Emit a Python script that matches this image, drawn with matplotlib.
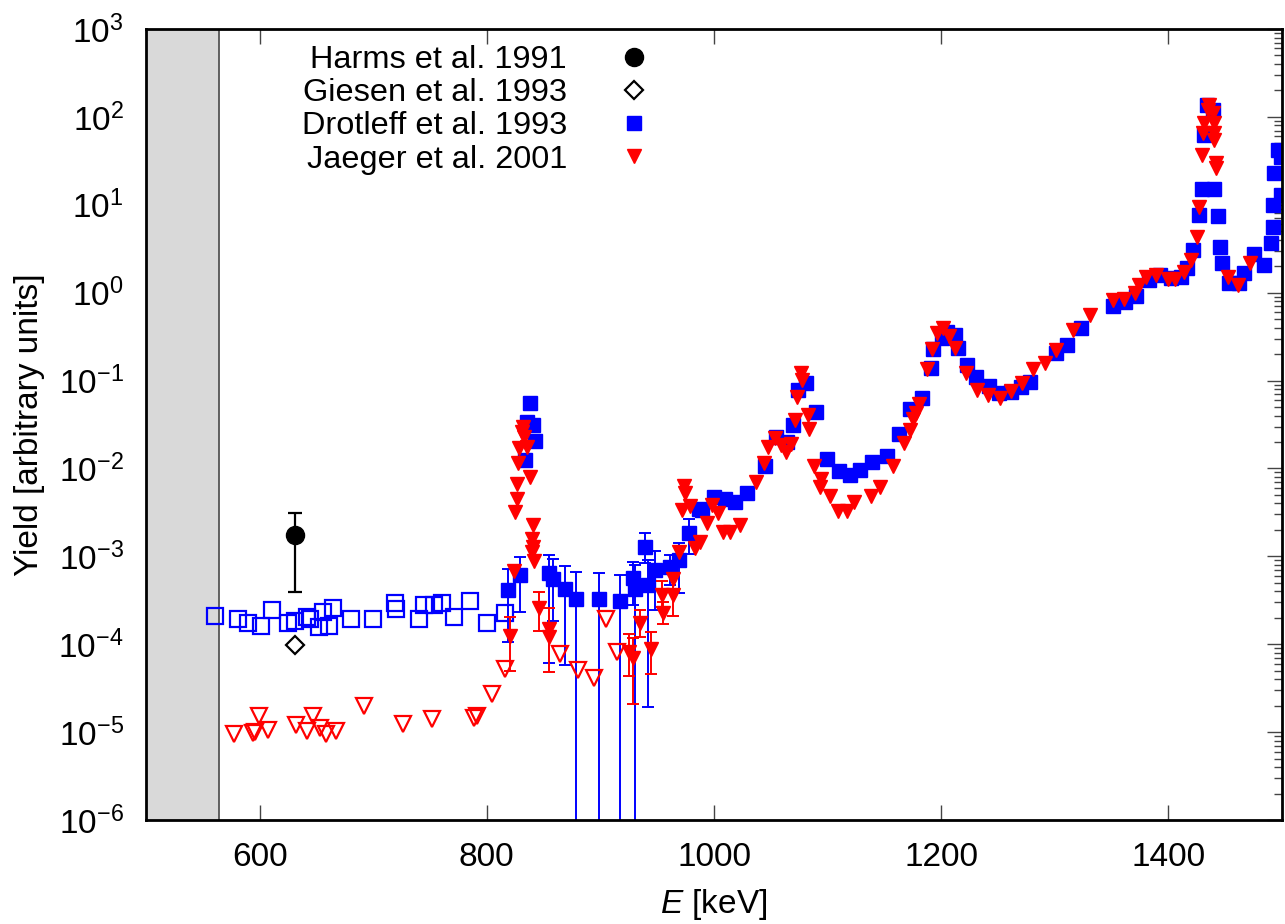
import matplotlib
matplotlib.use("Agg")
import matplotlib.pyplot as plt
from matplotlib.lines import Line2D
import matplotlib.ticker as mticker
import numpy as np

plt.rcParams['font.family'] = ['Liberation Sans', 'DejaVu Sans']
plt.rcParams['mathtext.fontset'] = 'custom'
plt.rcParams['mathtext.rm'] = 'Liberation Sans'
plt.rcParams['mathtext.it'] = 'Liberation Sans:italic'
plt.rcParams['mathtext.default'] = 'regular'

# ---------------- data ----------------
# Harms et al. 1991
harms_E = [631.0]
harms_Y = [1.75e-3]
harms_hi = [3.1e-3]
harms_lo = [3.9e-4]

# Giesen et al. 1993
giesen_E = [631.0]
giesen_Y = [9.8e-5]

# Drotleff et al. 1993 - open squares (low energies)
drot_open_E = [560.8, 580.8, 590.1, 601.1, 610.7, 625.4, 631.3, 641.6, 644.5, 652.4,
               655.7, 661.5, 665.0, 680.6, 699.7, 718.8, 720.0, 739.9, 744.9, 753.1,
               760.5, 770.7, 784.8, 800.2, 816.3]
drot_open_Y = [2.11e-4, 1.94e-4, 1.73e-4, 1.63e-4, 2.45e-4, 1.73e-4, 1.84e-4, 2.06e-4, 1.94e-4, 1.55e-4,
               2.35e-4, 1.63e-4, 2.57e-4, 1.94e-4, 1.94e-4, 2.92e-4, 2.52e-4, 1.94e-4, 2.80e-4, 2.83e-4,
               2.92e-4, 2.03e-4, 3.11e-4, 1.73e-4, 2.25e-4]

# Drotleff et al. 1993 - filled squares with error bars
drot_err_E = [818.3, 828.9, 854.5, 858.3, 869.2, 878.9, 899.1, 917.0, 928.8, 930.8,
              939.0, 942.0, 948.5, 961.7, 969.0, 978.4]
drot_err_Y = [4.15e-4, 6.1e-4, 6.4e-4, 5.5e-4, 4.2e-4, 3.3e-4, 3.25e-4, 3.13e-4, 5.6e-4, 4.3e-4,
              1.27e-3, 4.7e-4, 7.0e-4, 7.5e-4, 9.1e-4, 1.86e-3]
drot_err_hi = [7.1e-4, 9.9e-4, 1.04e-3, 9.3e-4, 7.8e-4, 6.7e-4, 6.4e-4, 6.1e-4, 8.6e-4, 8.0e-4,
               1.86e-3, 9.1e-4, 1.15e-3, 1.04e-3, 1.41e-3, 2.64e-3]
drot_err_lo = [1.07e-4, 2.35e-4, 6.1e-5, 1.86e-4, 5.8e-5, 1e-9, 1e-9, 1e-9, 2.8e-4, 1e-9,
               8.4e-4, 1.95e-5, 2.45e-4, 4.7e-4, 3.8e-4, 1.06e-3]

# Drotleff et al. 1993 - filled squares
drot_E = [838.3, 835.4, 840.7, 842.7, 833.9, 986.6, 989.6, 999.8, 1010.1, 1018.9,
          1029.2, 1044.5, 1054.2, 1063.9, 1069.8, 1074.2, 1080.6, 1089.4, 1099.1, 1110.0,
          1119.6, 1128.5, 1139.4, 1152.6, 1162.8, 1172.5, 1183.4, 1190.7, 1193.1, 1201.0,
          1205.5, 1211.9, 1214.8, 1222.5, 1230.4, 1242.1, 1250.9, 1261.2, 1270.0, 1278.2,
          1300.9, 1310.6, 1322.9, 1350.8, 1361.7, 1371.4, 1383.1, 1392.2, 1402.2, 1411.1,
          1416.8, 1421.3, 1426.6, 1429.3, 1431.6, 1434.0, 1439.1, 1440.4, 1443.4, 1445.7,
          1446.9, 1453.6, 1462.4, 1466.8, 1475.0, 1484.4, 1490.3, 1491.8, 1491.8, 1493.2,
          1496.2, 1499.1, 1499.1]
drot_Y = [0.056, 0.034, 0.031, 0.0207, 0.0125, 3.5e-3, 3.4e-3, 4.7e-3, 4.5e-3, 4.2e-3,
          5.2e-3, 0.0107, 0.0226, 0.0202, 0.031, 0.078, 0.093, 0.044, 0.0127, 9.4e-3,
          8.4e-3, 9.6e-3, 0.0118, 0.0139, 0.0247, 0.047, 0.063, 0.138, 0.227, 0.303,
          0.36, 0.33, 0.233, 0.150, 0.109, 0.087, 0.072, 0.075, 0.085, 0.097,
          0.207, 0.254, 0.394, 0.706, 0.79, 0.92, 1.40, 1.59, 1.46, 1.52,
          1.90, 3.06, 7.7, 15.0, 62.0, 136.0, 120.0, 15.0, 7.5, 3.29,
          2.19, 1.28, 1.28, 1.69, 2.75, 2.07, 3.65, 5.6, 9.96, 22.8,
          42.0, 35.0, 12.9]

# Jaeger et al. 2001 - open triangles (low energies)
jaeg_open_E = [577.5, 594.5, 596.0, 599.8, 607.8, 631.9, 642.1, 646.8, 653.3, 658.6,
               667.4, 691.5, 726.2, 751.7, 788.4, 791.4, 804.6, 815.7, 864.8, 880.0,
               894.1, 905.3, 914.7]
jaeg_open_Y = [9.46e-6, 9.7e-6, 9.9e-6, 1.53e-5, 1.06e-5, 1.21e-5, 1.03e-5, 1.53e-5, 1.12e-5, 9.46e-6,
               1.03e-5, 1.99e-5, 1.24e-5, 1.40e-5, 1.43e-5, 1.53e-5, 2.7e-5, 5.2e-5, 7.76e-5, 5.1e-5,
               4.1e-5, 1.92e-4, 8.2e-5]

# Jaeger et al. 2001 - filled triangles with error bars
jaeg_err_E = [820.7, 845.6, 855.1, 924.9, 928.8, 934.6, 944.7, 954.4, 955.2, 964.0]
jaeg_err_Y = [1.24e-4, 2.57e-4, 1.48e-4, 8.2e-5, 6.9e-5, 1.76e-4, 8.9e-5, 3.6e-4, 2.25e-4, 3.6e-4]
jaeg_err_hi = [2.06e-4, 3.9e-4, 2.57e-4, 1.31e-4, 1.17e-4, 2.45e-4, 1.37e-4, 5.2e-4, 3.05e-4, 6.4e-4]
jaeg_err_lo = [5.0e-5, 1.42e-4, 4.8e-5, 4.4e-5, 2.07e-5, 1.22e-4, 4.6e-5, 2.68e-4, 1.69e-4, 2.1e-4]

# Jaeger et al. 2001 - filled triangles
jaeg_E = [831.9, 831.0, 832.4, 828.0, 835.4, 827.1, 837.7, 826.6, 826.6, 825.1,
          840.3, 839.7, 840.3, 839.7, 841.8, 823.6, 855.1, 964.0, 969.0, 983.7,
          973.3, 974.9, 972.0, 979.3, 993.7, 998.1, 1003.9, 1007.9, 1013.8, 1022.7,
          988.1, 1036.6, 1043.9, 1047.4, 1053.3, 1058.6, 1063.0, 1067.4, 1070.9, 1072.7,
          1076.2, 1077.7, 1082.6, 1083.5, 1087.9, 1093.8, 1093.2, 1102.0, 1109.1, 1117.3,
          1123.1, 1137.9, 1146.1, 1157.9, 1167.2, 1172.5, 1175.5, 1177.5, 1180.4, 1187.2,
          1192.2, 1196.6, 1201.9, 1206.9, 1211.9, 1221.6, 1231.9, 1241.2, 1251.8, 1261.2,
          1271.5, 1281.2, 1291.2, 1300.9, 1316.4, 1331.1, 1350.8, 1360.5, 1370.5, 1374.3,
          1380.2, 1389.0, 1399.3, 1405.7, 1413.9, 1419.8, 1425.1, 1427.1, 1429.5, 1430.1,
          1431.6, 1434.6, 1436.0, 1439.0, 1439.8, 1440.4, 1440.4, 1441.9, 1441.9, 1452.2,
          1461.6, 1472.2]
jaeg_Y = [0.030, 0.026, 0.023, 0.017, 0.0174, 0.0115, 7.9e-3, 6.6e-3, 4.5e-3, 3.2e-3,
          2.3e-3, 1.56e-3, 1.29e-3, 1.13e-3, 8.9e-4, 6.8e-4, 1.2e-4, 5.5e-4, 1.13e-3, 1.24e-3,
          6.3e-3, 5.2e-3, 3.4e-3, 3.7e-3, 2.4e-3, 3.8e-3, 3.1e-3, 1.91e-3, 1.91e-3, 2.28e-3,
          1.47e-3, 7.1e-3, 0.0115, 0.0177, 0.0221, 0.0185, 0.0155, 0.0188, 0.0357, 0.0656,
          0.121, 0.102, 0.0406, 0.0279, 0.0107, 7.5e-3, 6.1e-3, 4.8e-3, 3.3e-3, 3.3e-3,
          4.2e-3, 4.9e-3, 6.2e-3, 0.0107, 0.0194, 0.0274, 0.0363, 0.0432, 0.054, 0.134,
          0.227, 0.351, 0.394, 0.32, 0.233, 0.121, 0.078, 0.069, 0.064, 0.077,
          0.093, 0.134, 0.16, 0.223, 0.377, 0.557, 0.83, 0.84, 0.98, 1.22,
          1.52, 1.59, 1.42, 1.42, 1.73, 2.36, 4.34, 9.5, 36.9, 65.0,
          84.5, 120.0, 136.0, 110.0, 84.5, 65.0, 54.6, 29.7, 26.0, 1.52,
          1.22, 2.16]

labels = ["Harms et al. 1991", "Giesen et al. 1993", "Drotleff et al. 1993", "Jaeger et al. 2001"]
excluded_E = [500, 564]
x_ticks = [600, 800, 1000, 1200, 1400]
y_ticks = [1e-6, 1e-5, 1e-4, 1e-3, 1e-2, 1e-1, 1e0, 1e1, 1e2, 1e3]

BLUE = '#0000ff'
RED = '#ff0000'
FS = 24
FS_LEG = 23.4

# ---------------- figure ----------------
fig = plt.figure(figsize=(12.85, 9.24), dpi=100)
ax = fig.add_axes([146/1285, 1 - 820/924, (1282-146)/1285, (820-29)/924])
ax.set_yscale('log')
ax.set_xlim(500, 1500)
ax.set_ylim(1e-6, 1e3)

ax.axvspan(excluded_E[0], excluded_E[1], facecolor='#d9d9d9', edgecolor='none', zorder=0)
ax.axvline(excluded_E[1], color='#555555', lw=1.3, zorder=0.5)

def yerr(y, lo, hi):
    y = np.array(y); lo = np.array(lo); hi = np.array(hi)
    return np.vstack([y - lo, hi - y])

ekw = dict(elinewidth=1.4, capsize=4, capthick=1.4)

# Harms
ax.errorbar(harms_E, harms_Y, yerr=yerr(harms_Y, harms_lo, harms_hi), fmt='o', ms=13,
            color='black', ecolor='black', elinewidth=1.6, capsize=5, capthick=1.6, zorder=3)
# Giesen
ax.plot(giesen_E, giesen_Y, 'D', ms=9, mfc='white', mec='black', mew=1.6, ls='none', zorder=3)

# Drotleff
ax.plot(drot_open_E, drot_open_Y, 's', ms=11, mfc='none', mec=BLUE, mew=1.6, ls='none', zorder=3)
ax.errorbar(drot_err_E, drot_err_Y, yerr=yerr(drot_err_Y, drot_err_lo, drot_err_hi), fmt='s',
            ms=10, color=BLUE, ecolor=BLUE, mec=BLUE, **ekw, zorder=3)
ax.plot(drot_E, drot_Y, 's', ms=10, color=BLUE, ls='none', zorder=3)

# Jaeger
ax.plot(jaeg_open_E, jaeg_open_Y, 'v', ms=12, mfc='none', mec=RED, mew=1.6, ls='none', zorder=4)
ax.errorbar(jaeg_err_E, jaeg_err_Y, yerr=yerr(jaeg_err_Y, jaeg_err_lo, jaeg_err_hi), fmt='v',
            ms=10, color=RED, ecolor=RED, mec=RED, **ekw, zorder=4)
ax.plot(jaeg_E, jaeg_Y, 'v', ms=10, color=RED, ls='none', zorder=4)

# axes styling
for s in ax.spines.values():
    s.set_linewidth(2.0)
    s.set_zorder(5)
ax.set_xticks(x_ticks)
ax.tick_params(axis='x', which='major', direction='in', length=11, width=1.0, color='#444444',
               top=True, bottom=True, labelsize=FS, pad=16)
ax.tick_params(axis='x', which='minor', bottom=False, top=False)
ax.yaxis.set_major_locator(mticker.FixedLocator(y_ticks))
ax.yaxis.set_major_formatter(mticker.LogFormatterSciNotation(base=10))
ax.yaxis.set_minor_locator(mticker.LogLocator(base=10, subs=np.arange(2, 10), numticks=20))
ax.yaxis.set_minor_formatter(mticker.NullFormatter())
ax.tick_params(axis='y', which='major', direction='in', length=11, width=1.0, color='#444444',
               left=False, right=True, labelsize=FS, pad=16)
ax.tick_params(axis='y', which='minor', direction='in', length=6, width=1.0, color='#444444',
               left=False, right=True)
ax.set_ylim(1e-6, 1e3)

ax.set_xlabel('$\\mathit{E}$ [keV]', fontsize=FS, labelpad=10)
ax.set_ylabel('Yield [arbitrary units]', fontsize=FS, labelpad=10)

# legend
handles = [
    Line2D([], [], marker='o', ls='none', ms=13, color='black'),
    Line2D([], [], marker='D', ls='none', ms=9, mfc='white', mec='black', mew=1.6),
    Line2D([], [], marker='s', ls='none', ms=10, color=BLUE),
    Line2D([], [], marker='v', ls='none', ms=10, color=RED),
]
fig.legend(handles, labels, loc='upper right', bbox_to_anchor=(650/1285, 1 - 45/924),
           bbox_transform=fig.transFigure, markerfirst=False, frameon=False, fontsize=FS_LEG,
           handlelength=1.0, handletextpad=1.55, labelspacing=0.1, borderpad=0, borderaxespad=0)

fig.savefig('out.png', dpi=100)
